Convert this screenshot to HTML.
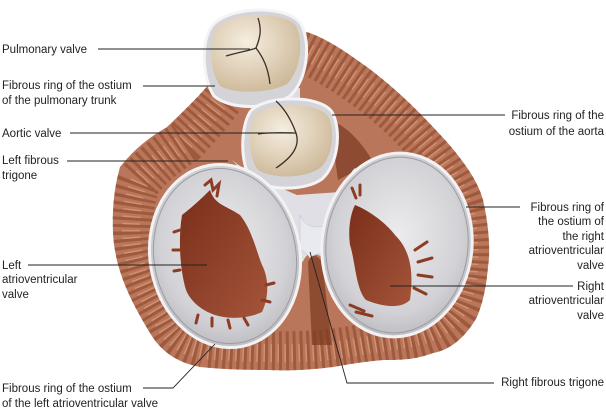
<!DOCTYPE html>
<html><head><meta charset="utf-8"><style>
html,body{margin:0;padding:0;background:#fff;}
svg{display:block;}
text{font-family:"Liberation Sans",sans-serif;font-size:11.5px;fill:#222;}
</style></head><body>
<svg width="606" height="410" viewBox="0 0 606 410" xmlns="http://www.w3.org/2000/svg">
<defs>
<radialGradient id="av" cx="50%" cy="45%" r="60%">
<stop offset="0" stop-color="#ececee"/><stop offset="0.7" stop-color="#d2d2d6"/><stop offset="1" stop-color="#b4b4ba"/>
</radialGradient>
<radialGradient id="leaf" cx="40%" cy="35%" r="70%">
<stop offset="0" stop-color="#f6eee0"/><stop offset="1" stop-color="#cdb898"/>
</radialGradient>
<linearGradient id="red" x1="0" y1="0" x2="1" y2="1">
<stop offset="0" stop-color="#7a2f1a"/><stop offset="1" stop-color="#a4543a"/>
</linearGradient>
<clipPath id="bc"><path id="bp" d="M307,32 C330,40 350,55 367,67 C395,88 415,108 433,127 C460,155 478,180 483,200 C490,230 490,255 488,267 C486,290 482,305 477,317 C465,338 450,350 433,353 C415,360 400,360 383,360 C360,362 345,365 333,367 C310,370 290,371 267,370 C240,370 220,369 200,367 C175,362 160,350 150,333 C130,300 115,270 113,233 C112,205 115,185 120,167 C135,148 150,137 167,127 C185,110 200,95 210,83 L210,60 Z"/></clipPath>
</defs>
<!-- brown muscle -->
<path d="M307,32 C330,40 350,55 367,67 C395,88 415,108 433,127 C460,155 478,180 483,200 C490,230 490,255 488,267 C486,290 482,305 477,317 C465,338 450,350 433,353 C415,360 400,360 383,360 C360,362 345,365 333,367 C310,370 290,371 267,370 C240,370 220,369 200,367 C175,362 160,350 150,333 C130,300 115,270 113,233 C112,205 115,185 120,167 C135,148 150,137 167,127 C185,110 200,95 210,83 L210,60 Z" fill="#b9765a"/>
<g clip-path="url(#bc)">
<path d="M300,48 C340,68 380,95 412,128 C442,160 460,190 466,215 C472,250 470,285 460,306 C448,328 428,336 400,340 C370,344 345,350 320,352 C290,354 250,354 205,350 C180,346 170,336 162,320 C142,290 132,262 131,232 C131,208 135,190 140,180 C155,163 170,152 185,142 C200,126 212,112 222,98" fill="none" stroke="#8a4426" stroke-width="44" stroke-dasharray="3 4" opacity="0.55"/>
<path d="M300,48 C340,68 380,95 412,128 C442,160 460,190 466,215 C472,250 470,285 460,306 C448,328 428,336 400,340 C370,344 345,350 320,352 C290,354 250,354 205,350 C180,346 170,336 162,320 C142,290 132,262 131,232 C131,208 135,190 140,180 C155,163 170,152 185,142 C200,126 212,112 222,98" fill="none" stroke="#e6ae8e" stroke-width="18" stroke-dasharray="1.5 5.5" stroke-dashoffset="4" opacity="0.5"/>
</g>
<path d="M330,120 C345,125 360,140 372,160 C360,168 348,175 338,180 C335,160 333,140 330,120 Z" fill="#6e2e18" opacity="0.6"/>
<!-- fibrous connecting tissue -->
<path d="M232,160 C250,175 285,190 297,195 L340,192 C345,185 350,172 355,168 L362,178 C345,195 335,215 333,240 C330,252 325,258 318,255 C312,250 305,255 303,262 L296,255 C295,235 290,205 265,195 Z" fill="#dfdfe5"/>
<path d="M300,215 C305,230 325,230 330,220 L330,250 C324,255 316,252 310,258 C306,252 302,250 300,250 Z" fill="#e9e9f0" stroke="#c0c0cc" stroke-width="0.5"/>
<path d="M245,95 L300,88 L300,112 L255,112 Z" fill="#dcdce2"/>
<!-- pulmonary valve -->
<path d="M212,26 C228,6 287,4 301,24 C312,45 306,82 290,96 C270,110 230,110 214,96 C203,80 200,42 212,26 Z" fill="#d4d4d8" stroke="#f4f4f6" stroke-width="3"/>
<path d="M216,28 C230,12 284,10 296,26 C305,44 299,72 287,84 C268,94 234,94 220,86 C210,72 208,44 216,28 Z" fill="url(#leaf)"/>
<path d="M226,56 C240,52 252,50 256,48 M256,48 C260,38 262,30 258,18 M256,48 C262,56 268,66 270,84" fill="none" stroke="#3a3026" stroke-width="1.3"/>
<!-- aortic valve -->
<path d="M250,112 C263,95 320,94 332,112 C342,130 338,165 322,179 C304,192 266,190 252,180 C240,166 240,128 250,112 Z" fill="#d4d4d8" stroke="#f4f4f6" stroke-width="3"/>
<path d="M254,116 C266,102 316,101 328,116 C336,132 332,158 320,168 C302,180 270,178 258,170 C248,158 248,130 254,116 Z" fill="url(#leaf)"/>
<path d="M258,134 C272,132 290,133 296,133 M296,133 C292,122 286,110 276,101 M296,133 C300,145 294,156 276,168" fill="none" stroke="#3a3026" stroke-width="1.3"/>
<!-- dark gap below trigone -->
<path d="M308,262 C312,252 318,256 322,262 L332,345 L312,345 Z" fill="#7a3a20" opacity="0.7"/>
<!-- left AV valve -->
<g transform="rotate(-10 225 256)">
<ellipse cx="225" cy="256" rx="75" ry="92" fill="url(#av)" stroke="#f2f2f4" stroke-width="3"/>
<ellipse cx="225" cy="256" rx="71" ry="88" fill="none" stroke="#9c9ca2" stroke-width="1"/>
</g>
<path d="M182,215 C195,205 205,195 210,190 C215,205 225,205 240,215 C252,230 256,250 262,265 C270,280 268,300 262,312 C250,318 230,320 215,315 C200,310 190,300 186,290 C180,270 178,240 182,215 Z" fill="url(#red)"/>
<path d="M205,185 l6,-5 l2,10 l6,-6 l-2,12 M180,230 l-6,2 M180,250 l-7,0 M180,270 l-6,1 M198,315 l-2,8 M212,318 l0,8 M228,320 l2,8 M244,318 l4,7 M262,300 l8,2 M266,285 l8,-2" stroke="#8d3c23" stroke-width="3" fill="none" stroke-linecap="round"/>
<!-- right AV valve -->
<g transform="rotate(6 397 245)">
<ellipse cx="397" cy="245" rx="75" ry="92" fill="url(#av)" stroke="#f2f2f4" stroke-width="3"/>
<ellipse cx="397" cy="245" rx="71" ry="88" fill="none" stroke="#9c9ca2" stroke-width="1"/>
</g>
<path d="M355,205 C368,210 385,222 395,235 C410,250 414,270 410,300 C400,310 380,306 366,300 C356,290 355,260 350,245 C348,230 350,215 355,205 Z" fill="url(#red)"/>
<path d="M352,188 l4,10 M360,185 l0,10 M415,250 l12,-8 M418,262 l14,-4 M418,275 l14,2 M414,288 l12,6 M350,305 l14,6 M356,312 l16,4" stroke="#8d3c23" stroke-width="3" fill="none" stroke-linecap="round"/>
<!-- leader lines -->
<g stroke="#222" stroke-width="0.9" fill="none">
<line x1="98" y1="49" x2="250" y2="49"/>
<line x1="143" y1="86" x2="215" y2="86"/>
<line x1="70" y1="133" x2="292" y2="133"/>
<line x1="67" y1="161" x2="228" y2="161"/>
<line x1="28" y1="265" x2="207" y2="265"/>
<polyline points="143,388 173,388 215,344"/>
<line x1="332" y1="115" x2="505" y2="115"/>
<line x1="466" y1="207" x2="520" y2="207"/>
<line x1="390" y1="286" x2="573" y2="286"/>
<polyline points="310,252 347,383 494,383"/>
</g>
<!-- labels -->
<text x="2" y="53">Pulmonary valve</text>
<text x="2" y="89">Fibrous ring of the ostium</text>
<text x="2" y="104">of the pulmonary trunk</text>
<text x="2" y="137">Aortic valve</text>
<text x="2" y="164">Left fibrous</text>
<text x="2" y="179">trigone</text>
<text x="2" y="269">Left</text>
<text x="2" y="283">atrioventricular</text>
<text x="2" y="298">valve</text>
<text x="2" y="392">Fibrous ring of the ostium</text>
<text x="2" y="407">of the left atrioventricular valve</text>
<g text-anchor="end">
<text x="604" y="119">Fibrous ring of the</text>
<text x="604" y="135">ostium of the aorta</text>
<text x="604" y="211">Fibrous ring of</text>
<text x="604" y="225">the ostium of</text>
<text x="604" y="240">the right</text>
<text x="604" y="254">atrioventricular</text>
<text x="604" y="269">valve</text>
<text x="604" y="290">Right</text>
<text x="604" y="304">atrioventricular</text>
<text x="604" y="319">valve</text>
<text x="604" y="386">Right fibrous trigone</text>
</g>
</svg>
</body></html>
